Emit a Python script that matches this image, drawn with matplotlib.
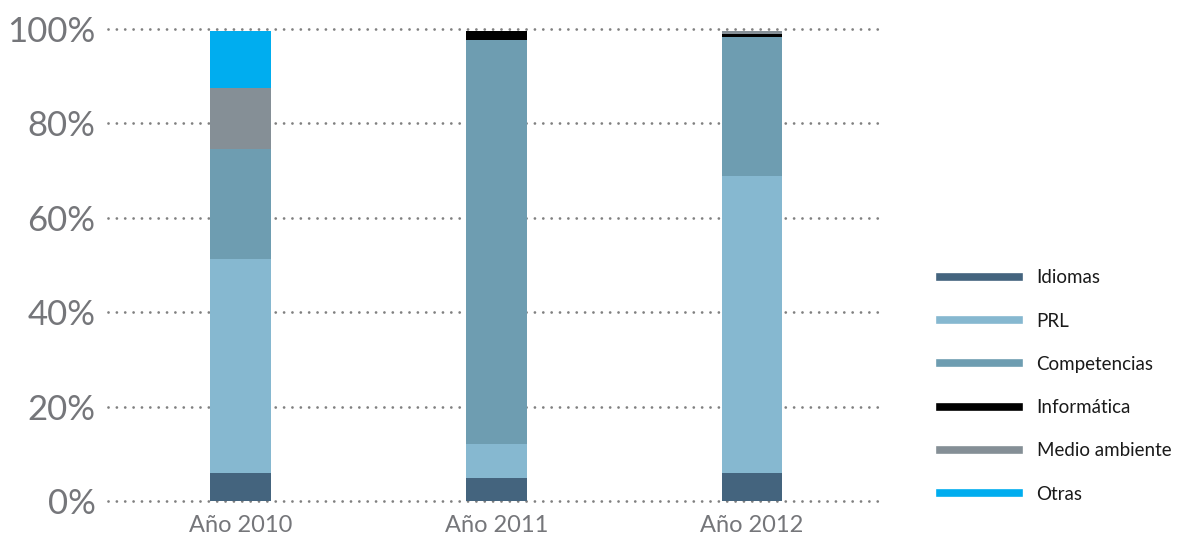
import matplotlib
matplotlib.use("Agg")
import matplotlib.pyplot as plt
from matplotlib.lines import Line2D
import numpy as np

# data (percent of training hours)
years = ["Año 2010", "Año 2011", "Año 2012"]
categories = ["Idiomas", "PRL", "Competencias", "Informática", "Medio ambiente", "Otras"]
idiomas = [6.0, 4.9, 6.0]
prl = [45.3, 7.2, 62.9]
competencias = [23.3, 85.6, 29.4]
informatica = [0.0, 1.9, 0.6]
medio_ambiente = [13.0, 0.0, 0.7]
otras = [12.0, 0.0, 0.0]
yticks = [0, 20, 40, 60, 80, 100]

colors = ["#44647e", "#86b8d0", "#6e9db1", "#000000", "#858f96", "#00adef"]
series = [idiomas, prl, competencias, informatica, medio_ambiente, otras]

plt.rcParams["font.family"] = ["Lato", "DejaVu Sans"]

fig = plt.figure(figsize=(11.93, 5.49), dpi=100)
ax = fig.add_axes([108 / 1193, 48 / 549, (885 - 108) / 1193, (501 - 29) / 549])

x = np.arange(len(years))
bottom = np.zeros(len(years))
for vals, col in zip(series, colors):
    ax.bar(x, vals, width=0.238, bottom=bottom, color=col, zorder=3)
    bottom += np.array(vals)

ax.set_xlim(-0.518, 2.52)
ax.set_ylim(0, 100)
ax.set_yticks(yticks)
ax.set_yticklabels([f"{t}%" for t in yticks])
ax.set_xticks(x)
ax.set_xticklabels(years)

# dotted guide lines
for t in yticks:
    ax.axhline(t, color="#808080", lw=2.0, ls=(0, (0.01, 3.0)),
               dash_capstyle="round", zorder=1, clip_on=False)

for s in ax.spines.values():
    s.set_visible(False)
ax.tick_params(axis="y", length=0, pad=9, labelsize=25, labelcolor="#75767a")
ax.tick_params(axis="x", length=0, pad=10, labelsize=17, labelcolor="#75767a")

handles = [Line2D([0], [0], color=c, lw=5.5) for c in colors]
leg = fig.legend(handles, categories, loc="center left",
                 bbox_to_anchor=(940 / 1193, 1 - 386 / 549),
                 frameon=False, fontsize=13.5, handlelength=4.2,
                 handletextpad=0.95, labelspacing=1.4, borderaxespad=0,
                 borderpad=0)
for t in leg.get_texts():
    t.set_color("#1a1a1a")

fig.savefig("out.png", dpi=100)
